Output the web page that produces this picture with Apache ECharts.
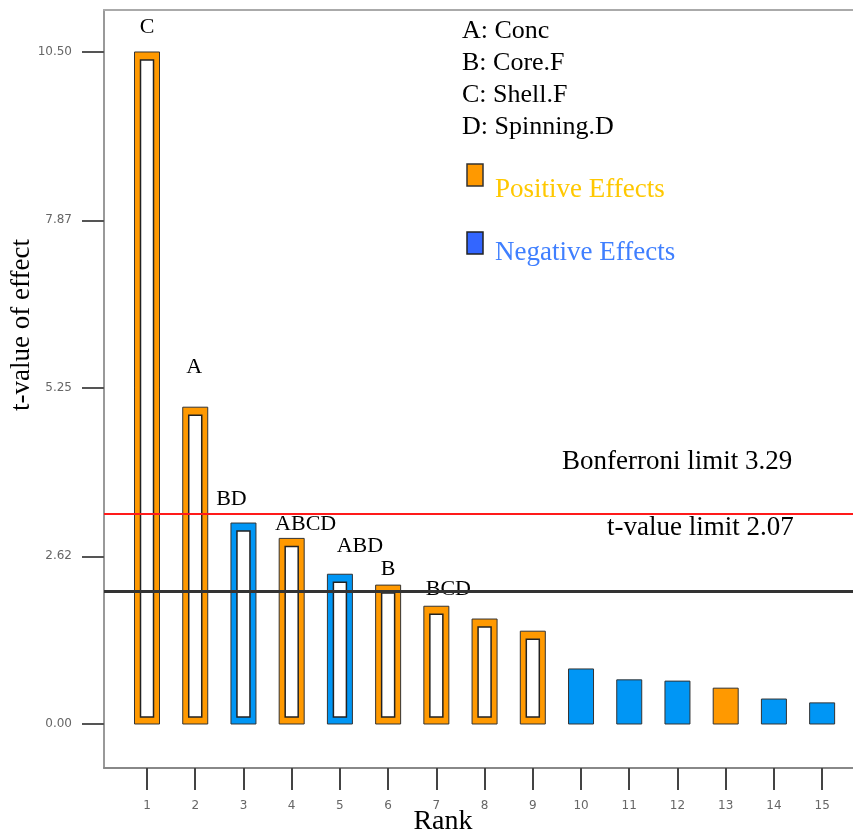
<!DOCTYPE html>
<html>
<head>
<meta charset="utf-8">
<script src="https://cdn.jsdelivr.net/npm/echarts@6/dist/echarts.min.js"></script>
<style>
  html, body { margin: 0; padding: 0; background: #fff; }
  #main { width: 853px; height: 833px; }
</style>
</head>
<body>
<div id="main"></div>
<script>
// t-values of the effects, ranked by size
var ranks = [1, 2, 3, 4, 5, 6, 7, 8, 9, 10, 11, 12, 13, 14, 15];
var tValues = [10.50, 4.95, 3.14, 2.90, 2.34, 2.17, 1.84, 1.64, 1.45, 0.86, 0.69, 0.67, 0.56, 0.39, 0.33];
var effectSign = ['+', '+', '-', '+', '-', '+', '+', '+', '+', '-', '-', '-', '+', '-', '-'];
var inModel = [1, 1, 1, 1, 1, 1, 1, 1, 1, 0, 0, 0, 0, 0, 0];
var terms = ['C', 'A', 'BD', 'ABCD', 'ABD', 'B', 'BCD', '', '', '', '', '', '', '', ''];
var factorNames = ['A: Conc', 'B: Core.F', 'C: Shell.F', 'D: Spinning.D'];
var yTickValues = [0, 2.62, 5.25, 7.87, 10.50];
var yTickLabels = ['0.00', '2.62', '5.25', '7.87', '10.50'];
var bonferroniLimit = 3.29;
var tValueLimit = 2.07;

// where each term label sits relative to its bar top (px)
var termOffsets = [[0, -25], [-1, -40], [-12, -24], [14, -14], [20, -28], [0, -16], [12, -17]];

var orange = '#ff9900';
var blue = '#0096f5';
var serif = '"Liberation Serif", "Times New Roman", serif';

var myChart = echarts.init(document.getElementById('main'));

var barData = ranks.map(function (r, i) {
  return [r, tValues[i], effectSign[i] === '+' ? 1 : -1, inModel[i]];
});

var option = {
  animation: false,
  backgroundColor: '#fff',
  grid: { left: 104, right: 0, top: 10, bottom: 65 },
  xAxis: [
    {
      type: 'value',
      min: 0.108,
      max: 15.64,
      splitLine: { show: false },
      axisLine: { show: true, onZero: false, lineStyle: { color: '#888', width: 2 } },
      axisTick: { show: true, customValues: ranks, length: 22, lineStyle: { color: '#444', width: 2 } },
      axisLabel: {
        customValues: ranks, margin: 32,
        color: '#666', fontFamily: 'DejaVu Sans', fontSize: 12
      }
    },
    {
      type: 'value',
      position: 'top',
      min: 0.108,
      max: 15.64,
      splitLine: { show: false },
      axisLine: { show: true, onZero: false, lineStyle: { color: '#aaa', width: 2 } },
      axisTick: { show: false },
      axisLabel: { show: false }
    }
  ],
  yAxis: {
    type: 'value',
    min: -0.6875,
    max: 11.156,
    splitLine: { show: false },
    axisLine: { show: true, onZero: false, lineStyle: { color: '#999', width: 2 } },
    axisTick: { show: true, customValues: yTickValues, length: 22, lineStyle: { color: '#555', width: 2 } },
    axisLabel: {
      customValues: yTickValues, margin: 32,
      color: '#666', fontFamily: 'DejaVu Sans', fontSize: 12,
      formatter: function (v) {
        var i = yTickValues.indexOf(v);
        return i >= 0 ? yTickLabels[i] : '';
      }
    }
  },
  series: [
    {
      type: 'custom',
      data: barData,
      encode: { x: 0, y: 1 },
      renderItem: function (params, api) {
        var rank = api.value(0);
        var top = api.coord([rank, api.value(1)]);
        var base = api.coord([rank, 0]);
        var w = 25;
        var fill = api.value(2) > 0 ? orange : blue;
        var h = base[1] - top[1];
        var children = [{
          type: 'rect',
          shape: { x: top[0] - w / 2, y: top[1], width: w, height: h },
          style: { fill: fill, stroke: '#333', lineWidth: 1 }
        }];
        if (api.value(3)) {
          children.push({
            type: 'rect',
            shape: { x: top[0] - w / 2 + 6, y: top[1] + 8, width: w - 12, height: h - 15 },
            style: { fill: '#fff', stroke: '#222', lineWidth: 1.5 }
          });
        }
        var term = terms[params.dataIndex];
        if (term) {
          var off = termOffsets[params.dataIndex];
          children.push({
            type: 'text',
            x: top[0] + off[0],
            y: top[1] + off[1],
            style: {
              text: term, fill: '#000', fontFamily: serif, fontSize: 22,
              align: 'center', verticalAlign: 'middle'
            }
          });
        }
        return { type: 'group', children: children };
      },
      markLine: {
        silent: true,
        symbol: 'none',
        label: { show: false },
        data: [
          { yAxis: bonferroniLimit, lineStyle: { color: '#ff1a1a', width: 2, type: 'solid' } },
          { yAxis: tValueLimit, lineStyle: { color: '#333', width: 3, type: 'solid' } }
        ]
      }
    }
  ],
  graphic: [
    {
      type: 'text', x: 22, y: 325, rotation: Math.PI / 2,
      style: { text: 't-value of effect', fill: '#000', fontFamily: serif, fontSize: 27, align: 'center', verticalAlign: 'middle' }
    },
    {
      type: 'text', x: 443, y: 822,
      style: { text: 'Rank', fill: '#000', fontFamily: serif, fontSize: 28, align: 'center', verticalAlign: 'middle' }
    },
    {
      type: 'text', x: 562, y: 462,
      style: { text: 'Bonferroni limit ' + bonferroniLimit.toFixed(2), fill: '#000', fontFamily: serif, fontSize: 27, align: 'left', verticalAlign: 'middle' }
    },
    {
      type: 'text', x: 607, y: 528,
      style: { text: 't-value limit ' + tValueLimit.toFixed(2), fill: '#000', fontFamily: serif, fontSize: 27, align: 'left', verticalAlign: 'middle' }
    },
    {
      type: 'rect', shape: { x: 467, y: 164, width: 16, height: 22 },
      style: { fill: orange, stroke: '#333', lineWidth: 1.5 }
    },
    {
      type: 'text', x: 495, y: 190,
      style: { text: 'Positive Effects', fill: '#ffc800', fontFamily: serif, fontSize: 27, align: 'left', verticalAlign: 'middle' }
    },
    {
      type: 'rect', shape: { x: 467, y: 232, width: 16, height: 22 },
      style: { fill: '#3366ff', stroke: '#222', lineWidth: 1.5 }
    },
    {
      type: 'text', x: 495, y: 253,
      style: { text: 'Negative Effects', fill: '#3f7fff', fontFamily: serif, fontSize: 27, align: 'left', verticalAlign: 'middle' }
    }
  ].concat(factorNames.map(function (name, i) {
    return {
      type: 'text', x: 462, y: 31 + i * 32,
      style: { text: name, fill: '#000', fontFamily: serif, fontSize: 26, align: 'left', verticalAlign: 'middle' }
    };
  }))
};

myChart.setOption(option);
</script>
</body>
</html>
